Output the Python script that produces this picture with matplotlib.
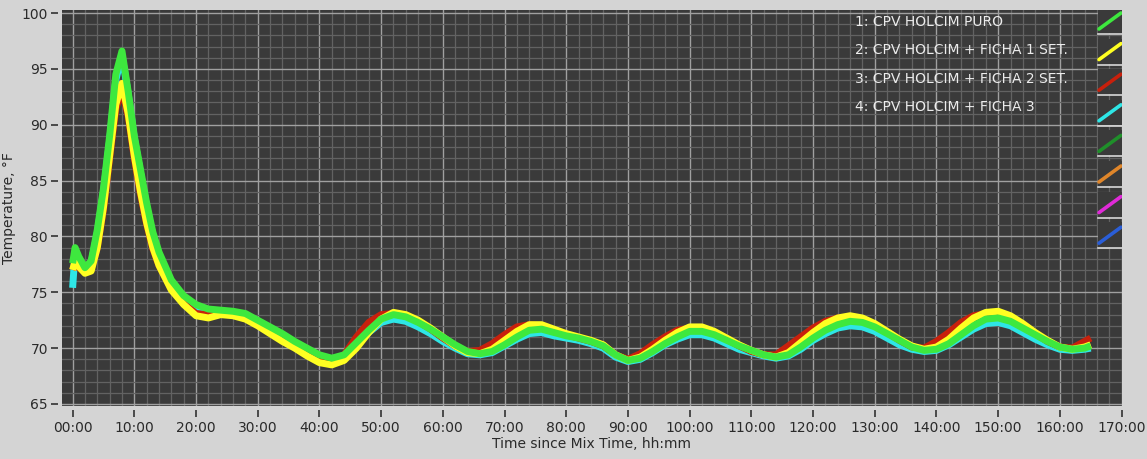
import matplotlib
matplotlib.use("Agg")
import matplotlib.pyplot as plt
from matplotlib.ticker import MultipleLocator, FixedLocator, FixedFormatter
from matplotlib.lines import Line2D
from matplotlib.patches import Rectangle

# ---- data (hours since mix, temperature in deg F) ----
hours = [0, 0.4, 1, 2, 3, 4, 5, 6, 7, 8, 9, 10, 11, 12, 13, 14, 16, 18, 20, 22,
         24, 26, 28, 30, 32, 34, 36, 38, 40, 42, 44, 46, 48, 50, 52, 54, 56, 58,
         60, 62, 64, 66, 68, 70, 72, 74, 76, 78, 80, 82, 84, 86, 88, 90, 92, 94,
         96, 98, 100, 102, 104, 106, 108, 110, 112, 114, 116, 118, 120, 122, 124,
         126, 128, 130, 132, 134, 136, 138, 140, 142, 144, 146, 148, 150, 152,
         154, 156, 158, 160, 162, 164, 165]

puro = [77.6, 79.0, 78.2, 77.2, 77.8, 80.6, 84.3, 89.0, 94.5, 96.6, 93.0, 89.0,
        86.0, 83.0, 80.4, 78.6, 76.1, 74.7, 73.9, 73.5, 73.4, 73.3, 73.1, 72.5,
        71.9, 71.3, 70.6, 70.0, 69.4, 69.1, 69.4, 70.5, 71.6, 72.6, 73.0, 72.8,
        72.3, 71.7, 71.0, 70.3, 69.7, 69.5, 69.7, 70.3, 71.0, 71.6, 71.7, 71.4,
        71.1, 70.9, 70.6, 70.2, 69.4, 68.9, 69.1, 69.7, 70.4, 71.0, 71.5, 71.5,
        71.2, 70.7, 70.2, 69.8, 69.4, 69.2, 69.4, 70.1, 70.9, 71.6, 72.1, 72.4,
        72.3, 71.9, 71.3, 70.7, 70.1, 69.8, 69.9, 70.4, 71.2, 72.0, 72.6, 72.7,
        72.4, 71.8, 71.2, 70.6, 70.1, 69.9, 70.0, 70.2]

ficha1 = [77.0, 77.8, 77.3, 76.7, 76.9, 79.0, 82.6, 87.2, 91.8, 93.7, 91.0, 87.2,
          84.0, 81.2, 79.0, 77.4, 75.2, 73.9, 72.9, 72.7, 73.0, 72.9, 72.6, 72.0,
          71.3, 70.6, 70.0, 69.3, 68.7, 68.5, 68.9, 70.0, 71.4, 72.6, 73.2, 73.0,
          72.5, 71.8, 71.0, 70.2, 69.6, 69.5, 69.9, 70.7, 71.5, 72.1, 72.1, 71.7,
          71.3, 71.0, 70.7, 70.3, 69.4, 68.9, 69.2, 69.9, 70.7, 71.4, 71.9, 71.9,
          71.5, 70.9, 70.3, 69.8, 69.4, 69.2, 69.6, 70.5, 71.4, 72.2, 72.7, 72.9,
          72.7, 72.2, 71.5, 70.8, 70.2, 69.9, 70.1, 70.8, 71.8, 72.7, 73.2, 73.3,
          72.9, 72.2, 71.4, 70.7, 70.1, 69.9, 70.1, 70.3]

ficha2 = [77.0, 77.6, 77.2, 76.8, 77.0, 79.0, 82.4, 87.0, 91.4, 93.2, 90.8, 87.0,
          83.8, 81.1, 78.9, 77.4, 75.3, 74.0, 73.1, 73.0, 73.1, 73.0, 72.7, 72.1,
          71.4, 70.7, 70.1, 69.5, 68.9, 68.8, 69.4, 71.0, 72.3, 73.0, 73.1, 72.9,
          72.4, 71.7, 70.9, 70.2, 69.7, 69.8, 70.4, 71.2, 71.9, 72.1, 72.0, 71.6,
          71.2, 70.9, 70.6, 70.2, 69.4, 69.0, 69.5, 70.3, 71.0, 71.6, 71.8, 71.8,
          71.4, 70.8, 70.2, 69.7, 69.4, 69.4, 70.2, 71.0, 71.8, 72.4, 72.7, 72.8,
          72.6, 72.1, 71.4, 70.7, 70.1, 70.0, 70.6, 71.4, 72.3, 72.9, 73.1, 73.1,
          72.8, 72.1, 71.3, 70.6, 70.1, 70.0, 70.6, 70.9]

ficha3 = [75.4, 78.6, 78.0, 77.1, 77.6, 80.3, 84.0, 88.6, 94.0, 96.2, 92.8, 88.8,
          85.7, 82.7, 80.1, 78.3, 75.8, 74.4, 73.6, 73.3, 73.2, 73.0, 72.7, 72.1,
          71.4, 70.8, 70.2, 69.6, 69.1, 68.9, 69.3, 70.3, 71.4, 72.3, 72.6, 72.4,
          71.9, 71.3, 70.6, 70.0, 69.5, 69.4, 69.6, 70.2, 70.8, 71.3, 71.4, 71.1,
          70.9, 70.7, 70.4, 70.0, 69.2, 68.8, 69.0, 69.6, 70.3, 70.8, 71.2, 71.2,
          70.9, 70.4, 69.9, 69.6, 69.3, 69.1, 69.3, 69.9, 70.7, 71.3, 71.8, 72.0,
          71.9, 71.5, 70.9, 70.3, 69.9, 69.7, 69.8, 70.3, 71.0, 71.7, 72.2, 72.3,
          72.0, 71.4, 70.8, 70.3, 69.9, 69.8, 69.9, 70.0]

series_labels = ["1: CPV HOLCIM PURO", "2: CPV HOLCIM + FICHA 1 SET.",
                 "3: CPV HOLCIM + FICHA 2 SET.", "4: CPV HOLCIM + FICHA 3"]
series_colors = ["#3ee83e", "#ffff22", "#c8200c", "#2ee6e6"]
extra_colors = ["#1f8f2a", "#e0862a", "#e02ad8", "#2a5ed8"]

x_ticks = [0, 10, 20, 30, 40, 50, 60, 70, 80, 90, 100, 110, 120, 130, 140,
           150, 160, 170]
x_tick_labels = ["00:00", "10:00", "20:00", "30:00", "40:00", "50:00", "60:00",
                 "70:00", "80:00", "90:00", "100:00", "110:00", "120:00",
                 "130:00", "140:00", "150:00", "160:00", "170:00"]
y_ticks = [65, 70, 75, 80, 85, 90, 95, 100]

# ---- figure ----
W, H = 1147, 459
fig = plt.figure(figsize=(W / 100, H / 100), dpi=100, facecolor="#d4d4d4")
ax_l, ax_r, ax_t, ax_b = 62, 1122, 10, 406
ax = fig.add_axes([ax_l / W, (H - ax_b) / H, (ax_r - ax_l) / W, (ax_b - ax_t) / H])
ax.set_facecolor("#3a3a3a")

ax.set_xlim(-1.72, 170.07)
ax.set_ylim(64.82, 100.27)

# grid
ax.xaxis.set_major_locator(FixedLocator(x_ticks))
ax.xaxis.set_major_formatter(FixedFormatter(x_tick_labels))
ax.xaxis.set_minor_locator(MultipleLocator(2))
ax.yaxis.set_major_locator(FixedLocator(y_ticks))
ax.yaxis.set_minor_locator(MultipleLocator(1))
ax.grid(which="minor", color="#626262", linewidth=0.9)
ax.grid(which="major", color="#a0a0a0", linewidth=1.0)
ax.set_axisbelow(True)

for s in ax.spines.values():
    s.set_visible(False)
ax.spines["bottom"].set_position(("outward", 3))
ax.spines["left"].set_position(("outward", 3))

ax.tick_params(which="major", direction="out", length=5, width=1.2,
               color="#333333", labelcolor="#2a2a2a", labelsize=10, pad=3)
ax.tick_params(which="minor", length=0)
ax.tick_params(axis="y", pad=2)

# curves
order = [3, 2, 1, 0]
all_series = [puro, ficha1, ficha2, ficha3]
for i in order:
    ax.plot(hours, all_series[i], color=series_colors[i], linewidth=5.0,
            solid_joinstyle="round", solid_capstyle="butt", zorder=3 + (3 - i))

ax.set_xlabel("Time since Mix Time, hh:mm", fontsize=10, color="#2a2a2a", labelpad=1)
ax.set_ylabel("Temperature, °F", fontsize=10, color="#2a2a2a", labelpad=4)

# plot legend: names and colour swatches
def fx(px):
    return (px - ax_l) / (ax_r - ax_l)

def fy(py):
    return (ax_b - py) / (ax_b - ax_t)

for i, lab in enumerate(series_labels):
    ax.text(fx(855), fy(22 + 28.4 * i), lab, transform=ax.transAxes,
            fontsize=10, color="#ececec", va="center", ha="left", zorder=10)

swatch_colors = series_colors + extra_colors
for i, c in enumerate(swatch_colors):
    top = 8 + 30.6 * i
    bot = top + 25
    ax.add_patch(Rectangle((fx(1098), fy(bot)), fx(1122) - fx(1098), fy(top) - fy(bot),
                           transform=ax.transAxes, facecolor="#3a3a3a",
                           edgecolor="none", zorder=10))
    ax.add_line(Line2D([fx(1099), fx(1121)], [fy(bot - 4), fy(top + 5)],
                       transform=ax.transAxes, color=c, linewidth=2.6,
                       solid_capstyle="round", zorder=11))
    ax.add_line(Line2D([fx(1098), fx(1122)], [fy(bot + 1), fy(bot + 1)],
                       transform=ax.transAxes, color="#d8d8d8", linewidth=1.2,
                       zorder=11))

fig.savefig("out.png", dpi=100, facecolor=fig.get_facecolor())
